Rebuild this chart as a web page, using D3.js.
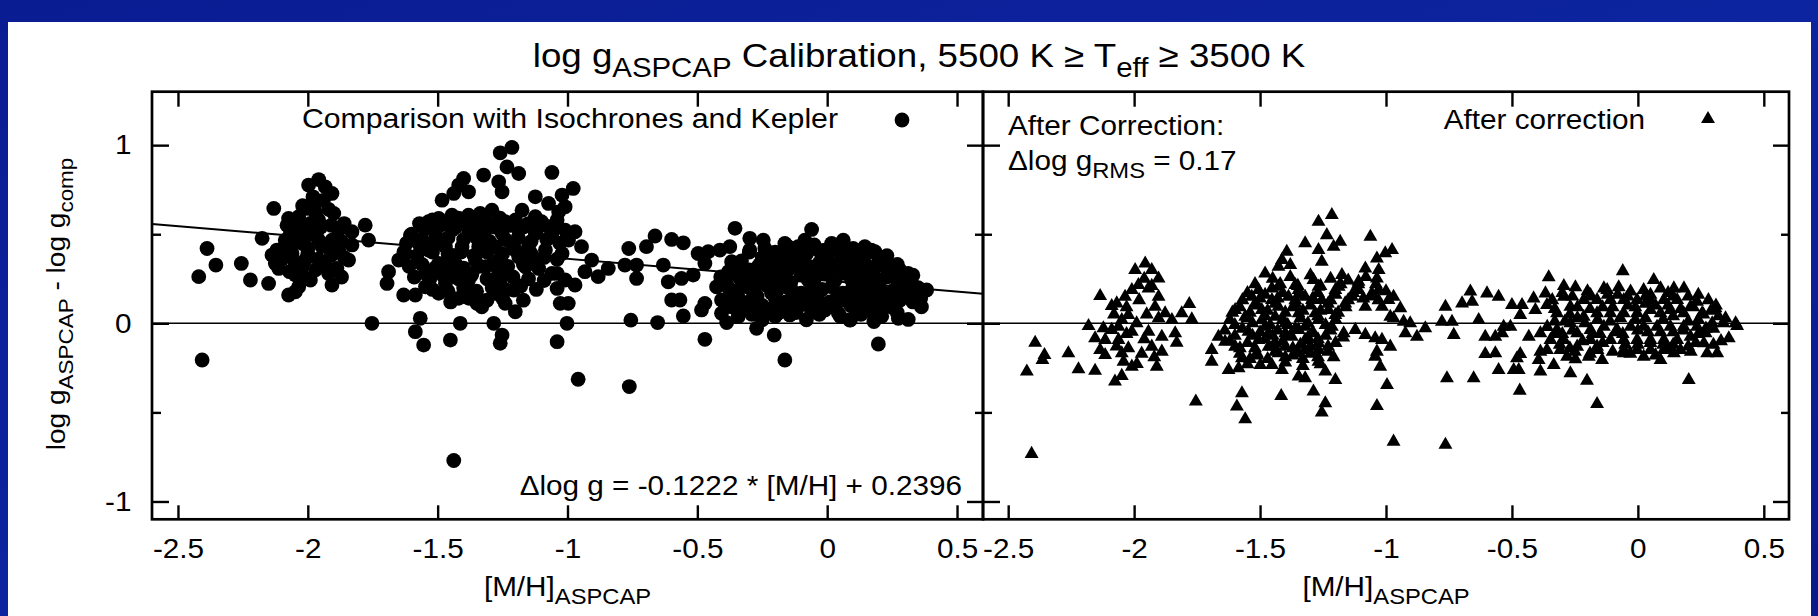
<!DOCTYPE html>
<html>
<head>
<meta charset="utf-8">
<script src="https://cdn.jsdelivr.net/npm/d3@7"></script>
<style>
  body { margin: 0; background: #ffffff; }
  svg { display: block; }
  text { font-family: "Liberation Sans", Arial, Helvetica, sans-serif; fill: #000; }
</style>
</head>
<body>
<svg id="chart" width="1818" height="616"></svg>
<script>
// [M/H], log g_ASPCAP - log g_comp : stars compared with isochrones and Kepler
const circlesMetalPoor = [
  [-2.388,0.420],[-2.354,0.327],[-2.420,0.262],[-2.407,-0.206],[-2.256,0.336],[-2.221,0.243],[-2.151,0.224],[-2.131,0.645],[-2.176,0.477],[-2.074,0.589],
  [-1.997,0.776],[-1.958,0.807],[-1.907,0.729],[-1.933,0.766],[-1.900,0.617],[-1.971,0.673],[-2.003,0.645],[-2.035,0.598],[-1.990,0.561],[-1.958,0.579],
  [-1.779,0.551],[-1.766,0.467],[-1.830,0.514],[-1.881,0.523],[-1.907,0.467],[-1.945,0.430],[-1.881,0.411],[-1.843,0.355],[-1.933,0.327],[-1.888,0.308],
  [-1.907,0.215],[-2.087,0.467],[-2.119,0.411],[-2.138,0.383],[-2.125,0.336],[-2.112,0.308],[-2.061,0.392],[-2.022,0.448],[-2.010,0.355],[-2.022,0.318],
  [-2.048,0.271],[-1.990,0.243],[-2.035,0.205],[-2.074,0.159],[-2.048,0.177],[-2.067,0.505],[-2.035,0.523],[-2.010,0.486]
];
const circlesMetalPoorCore = [
  [-2.08,0.55],[-2.04,0.56],[-1.99,0.52],[-1.95,0.54],[-1.91,0.55],[-1.86,0.56],
  [-2.09,0.43],[-2.05,0.46],[-2.00,0.42],[-1.96,0.47],[-1.92,0.44],[-1.87,0.46],[-1.83,0.44],
  [-2.10,0.36],[-2.05,0.34],[-2.00,0.39],[-1.96,0.36],[-1.91,0.38],[-1.86,0.37],
  [-2.07,0.29],[-2.02,0.27],[-1.97,0.30],[-1.92,0.28],[-1.87,0.26],
  [-1.98,0.71],[-1.94,0.69],[-1.92,0.64],[-1.97,0.62],[-2.02,0.66]
];
const circlesIntermediate = [
  [-1.753,0.000],[-1.695,0.224],[-1.689,0.290],[-1.631,0.159],[-1.586,0.159],[-1.605,0.495],[-1.567,0.028],[-1.586,-0.047],[-1.554,-0.122],[-1.451,-0.094],
  [-1.413,0.000],[-1.284,0.000],[-1.252,-0.066],[-1.259,-0.112],[-1.040,-0.103],[-1.002,0.000],[-1.438,-0.770],[-1.483,0.691],[-1.438,0.729],[-1.400,0.813],
  [-1.381,0.738],[-1.419,0.776],[-1.323,0.832],[-1.259,0.957],[-1.214,0.987],[-1.233,0.878],[-1.188,0.841],[-1.252,0.738],[-1.265,0.794],[-1.060,0.847],
  [-1.291,0.635],[-1.175,0.635],[-1.073,0.673],[-1.021,0.720],[-1.034,0.626],[-1.535,0.570],[-1.496,0.589],[-1.445,0.607],[-1.381,0.607],[-1.336,0.617],
  [-1.239,0.570],[-1.124,0.598],[-1.073,0.542],[-1.009,0.523],[-1.162,0.318],[-1.111,0.308],[-1.060,0.280],[-1.009,0.243],[-1.040,0.196],[-1.028,0.112],
  [-1.207,0.187],[-1.240,0.112],[-1.201,0.065],[-1.278,0.168],[-1.349,0.112],[-1.330,0.093],[-1.419,0.140],[-1.496,0.168],[-1.470,0.224],[-1.547,0.205],
  [-1.547,0.280],[-1.650,0.355],[-1.624,0.392],[-1.573,0.448],[-1.432,0.262],[-1.381,0.243],[-1.265,0.280],[-1.265,0.355],[-1.355,0.355],
  [-1.509,0.505],[-1.445,0.523],[-1.381,0.505],[-1.316,0.523],[-1.252,0.505],[-1.188,0.523],[-1.124,0.505],[-1.060,0.486],[-0.996,0.467],
  [-1.535,0.411],[-1.470,0.430],[-1.406,0.430],[-1.342,0.430],[-1.278,0.430],[-1.214,0.448],[-1.150,0.430],[-1.085,0.411],[-1.021,0.392],
  [-1.496,0.336],[-1.432,0.336],[-1.316,0.318],[-1.239,0.299],[-1.188,0.374],[-1.470,0.299],[-1.368,0.280],
  [-1.124,0.710],[-1.009,0.654],[-1.098,0.561]
];
const circlesIntermediateCore = [
  [-1.57,0.56],[-1.52,0.58],[-1.47,0.57],[-1.42,0.59],[-1.36,0.58],[-1.31,0.57],[-1.26,0.59],[-1.20,0.58],[-1.15,0.56],[-1.10,0.57],[-1.04,0.58],
  [-1.60,0.50],[-1.55,0.53],[-1.49,0.55],[-1.43,0.54],[-1.38,0.55],[-1.33,0.53],[-1.28,0.54],[-1.22,0.55],[-1.17,0.54],[-1.12,0.52],[-1.05,0.53],[-1.00,0.49],
  [-1.62,0.45],[-1.56,0.47],[-1.51,0.46],[-1.46,0.48],[-1.40,0.47],[-1.35,0.48],[-1.30,0.46],[-1.24,0.47],[-1.19,0.48],[-1.14,0.46],[-1.08,0.47],[-1.03,0.45],
  [-1.63,0.40],[-1.58,0.38],[-1.52,0.40],[-1.46,0.39],[-1.41,0.40],[-1.36,0.38],[-1.31,0.40],[-1.25,0.39],[-1.20,0.41],[-1.14,0.39],[-1.09,0.37],[-1.04,0.36],
  [-1.61,0.32],[-1.56,0.33],[-1.51,0.31],[-1.45,0.33],[-1.40,0.31],[-1.34,0.32],[-1.29,0.33],[-1.23,0.32],[-1.17,0.33],[-1.12,0.35],
  [-1.59,0.26],[-1.53,0.25],[-1.48,0.27],[-1.42,0.25],[-1.37,0.27],[-1.31,0.25],[-1.26,0.24],[-1.21,0.26],[-1.15,0.25],[-1.09,0.24],[-1.04,0.28],
  [-1.52,0.19],[-1.46,0.18],[-1.40,0.20],[-1.35,0.18],[-1.29,0.20],[-1.24,0.19],[-1.18,0.21],[-1.12,0.19],
  [-1.45,0.12],[-1.38,0.14],[-1.31,0.13],[-1.25,0.14],[-1.17,0.13]
];
const circlesMetalRich = [
  [-0.978,0.757],[-0.971,0.514],[-0.946,0.430],[-0.907,0.355],[-0.933,0.290],[-0.882,0.262],[-0.843,0.308],[-0.971,0.215],[-0.997,0.112],[-0.959,-0.314],
  [-0.764,0.420],[-0.779,0.327],[-0.734,0.327],[-0.734,0.252],[-0.756,0.018],[-0.762,-0.355],[-0.696,0.430],[-0.663,0.490],[-0.653,0.004],[-0.631,0.327],
  [-0.599,0.471],[-0.554,0.452],[-0.612,0.233],[-0.561,0.252],[-0.516,0.271],[-0.599,0.131],[-0.567,0.131],[-0.554,0.041],[-0.497,0.392],[-0.458,0.402],
  [-0.471,0.336],[-0.484,0.075],[-0.471,0.112],[-0.471,-0.090],[-0.426,0.205],[-0.413,0.411],[-0.375,0.430],[-0.355,0.533],[-0.368,0.346],[-0.387,0.004],
  [-0.394,0.112],[-0.298,0.477],[-0.246,0.467],[-0.298,0.411],[-0.272,-0.028],[-0.204,-0.066],[-0.163,-0.206],[-0.060,0.527],[0.062,0.467],[0.197,-0.116],
  [0.312,0.280],[0.383,0.187],[0.363,0.093],[0.312,0.022],[0.274,0.028],[0.241,0.308],[0.184,0.402],[0.087,0.018],[0.171,0.065],[-0.060,0.065],
  [-0.144,0.047],[-0.176,0.112],[-0.343,0.037],[-0.310,0.252],[-0.240,0.075],
  [-0.343,0.280],[-0.266,0.318],[-0.189,0.392],[-0.112,0.430],[-0.035,0.411],[0.043,0.411],[0.119,0.392],[0.197,0.374],
  [-0.343,0.187],[-0.266,0.224],[-0.189,0.280],[-0.112,0.318],[-0.035,0.299],[0.043,0.318],[0.119,0.299],[0.197,0.243],[0.274,0.224],
  [-0.368,0.093],[-0.291,0.131],[-0.214,0.168],[-0.137,0.187],[-0.060,0.168],[0.017,0.205],[0.094,0.187],[0.171,0.149],[0.248,0.131],
  [-0.189,0.056],[-0.112,0.093],[-0.009,0.075],[0.043,0.056],[0.119,0.075],[0.222,0.093],[-0.035,0.131],[0.068,0.131],
  [-0.214,0.355],[-0.137,0.355],[0.004,0.355],[0.081,0.355],[0.158,0.318],[-0.073,0.243],[-0.163,0.243],[0.094,0.243],[0.017,0.093],
  [-0.163,0.448],[-0.086,0.467],[0.017,0.448],[0.145,0.430],[0.222,0.318],[0.274,0.149],[0.325,0.224],[-0.407,0.131],[-0.407,0.056]
];
const circlesMetalRichCore = [
  [-0.24,0.42],[-0.15,0.43],[-0.05,0.44],[0.04,0.44],[0.10,0.42],[0.17,0.41],
  [-0.33,0.35],[-0.25,0.37],[-0.17,0.38],[-0.08,0.39],[0.00,0.38],[0.07,0.39],[0.14,0.37],[0.21,0.35],[0.27,0.33],
  [-0.38,0.29],[-0.30,0.30],[-0.22,0.31],[-0.15,0.30],[-0.07,0.32],[0.02,0.31],[0.09,0.33],[0.16,0.29],[0.25,0.28],[0.31,0.25],
  [-0.39,0.23],[-0.31,0.22],[-0.23,0.25],[-0.14,0.23],[-0.05,0.25],[0.03,0.24],[0.12,0.26],[0.20,0.23],[0.29,0.21],[0.35,0.20],
  [-0.36,0.17],[-0.28,0.18],[-0.19,0.19],[-0.10,0.17],[-0.02,0.19],[0.06,0.17],[0.14,0.19],[0.22,0.17],[0.30,0.16],
  [-0.33,0.11],[-0.25,0.10],[-0.16,0.12],[-0.08,0.11],[0.01,0.12],[0.09,0.10],[0.16,0.11],[0.25,0.09],[0.33,0.12],
  [-0.29,0.05],[-0.20,0.04],[-0.12,0.06],[-0.03,0.05],[0.05,0.04],[0.13,0.05],[0.21,0.04],
  [-0.30,0.40],[-0.20,0.40],[-0.11,0.41],[-0.01,0.41],[0.08,0.41],[0.15,0.39],[0.23,0.38],
  [-0.35,0.32],[-0.26,0.33],[-0.18,0.34],[-0.10,0.35],[-0.03,0.34],[0.05,0.35],[0.12,0.34],[0.19,0.32],[0.28,0.30],
  [-0.41,0.26],[-0.34,0.26],[-0.26,0.27],[-0.19,0.26],[-0.10,0.27],[-0.01,0.28],[0.07,0.28],[0.15,0.26],[0.23,0.26],[0.33,0.27],
  [-0.38,0.20],[-0.30,0.20],[-0.23,0.21],[-0.15,0.20],[-0.06,0.21],[0.02,0.21],[0.10,0.21],[0.18,0.20],[0.26,0.19],[0.33,0.17],
  [-0.34,0.14],[-0.27,0.15],[-0.20,0.14],[-0.12,0.15],[-0.04,0.14],[0.04,0.15],[0.12,0.14],[0.20,0.13],[0.28,0.13],[0.36,0.14],
  [-0.30,0.08],[-0.22,0.08],[-0.14,0.09],[-0.06,0.08],[0.03,0.09],[0.11,0.08],[0.19,0.07],[0.27,0.06],
  [-0.25,0.02],[-0.08,0.02],[0.09,0.02],[0.18,0.01]
];

// [M/H], residual after the calibration has been applied
const trianglesMetalPoor = [
  [-2.407,-0.733],[-2.393,-0.109],[-2.356,-0.178],[-2.364,-0.206],[-2.426,-0.271],[-2.261,-0.168],[-2.221,-0.258],[-2.155,-0.266],[-2.135,0.153],[-2.181,-0.015],
  [-2.076,-0.327],[-2.049,-0.295],[-1.910,-0.243],[-1.989,-0.228],[-2.069,0.112],[-2.089,0.097],[-2.036,0.149],[-2.009,0.187],[-1.983,0.215],[-1.956,0.336],
  [-1.996,0.299],[-1.930,0.299],[-1.903,0.252],[-1.943,0.196],[-1.903,0.149],[-1.917,0.093],[-1.877,0.056],[-1.903,0.028],[-1.850,0.019],[-1.811,0.056],
  [-1.781,0.108],[-1.771,0.022],[-1.837,-0.056],[-1.831,-0.109],[-1.890,-0.075],[-1.930,-0.131],[-1.890,-0.159],[-1.943,-0.047],[-2.009,-0.047],[-2.049,0.019],
  [-2.023,0.047],[-2.062,-0.019],[-2.089,-0.037],[-2.122,-0.028],[-2.155,-0.084],[-2.115,-0.093],[-2.062,-0.093],[-2.135,-0.150],[-2.115,-0.178],[-2.049,-0.168],
  [-2.023,-0.140],[-2.042,-0.215],[-2.009,-0.243],[-1.755,-0.439],
  [-2.03,0.09],[-1.98,0.13],[-1.95,0.05],[-1.99,0.00],[-1.96,-0.09],[-2.03,-0.06],[-1.92,-0.19],[-2.07,-0.13],[-1.97,-0.17],[-2.08,0.05],[-1.96,0.25],[-1.93,0.21]
];
const trianglesIntermediate = [
  [-1.692,-0.150],[-1.692,-0.215],[-1.625,-0.262],[-1.585,-0.252],[-1.572,-0.196],[-1.599,-0.131],[-1.639,-0.103],[-1.665,-0.075],[-1.599,0.075],[-1.572,-0.393],
  [-1.592,-0.467],[-1.559,-0.538],[-1.499,-0.234],[-1.513,-0.168],[-1.480,0.280],[-1.427,0.318],[-1.394,0.402],[-1.413,0.355],[-1.380,0.327],[-1.321,0.449],
  [-1.268,0.570],[-1.215,0.608],[-1.235,0.495],[-1.182,0.458],[-1.208,0.430],[-1.268,0.411],[-1.255,0.346],[-1.062,0.486],[-1.003,0.393],[-1.036,0.364],
  [-1.082,0.308],[-1.029,0.299],[-1.036,0.252],[-1.288,0.243],[-1.175,0.271],[-1.109,0.234],[-1.533,0.149],[-1.453,0.196],[-1.360,0.215],[-1.294,0.131],
  [-1.201,0.187],[-1.135,0.149],[-1.056,0.168],[-0.990,0.131],[-1.559,0.037],[-1.493,0.075],[-1.427,0.093],[-1.360,0.112],[-1.228,0.075],[-1.201,0.047],
  [-0.983,0.037],[-1.546,-0.047],[-1.480,-0.019],[-1.400,0.000],[-1.321,-0.019],[-1.268,0.019],[-1.506,-0.093],[-1.440,-0.112],[-1.374,-0.075],[-1.321,-0.093],
  [-1.268,-0.112],[-1.427,-0.168],[-1.347,-0.168],[-1.413,-0.262],[-1.453,-0.234],[-1.347,-0.299],[-1.321,-0.308],[-1.268,-0.215],[-1.208,-0.191],[-1.241,-0.271],
  [-1.201,-0.318],[-1.288,-0.383],[-1.241,-0.449],[-1.255,-0.501],[-1.416,-0.408],[-1.168,-0.056],[-1.122,-0.037],[-1.082,-0.065],[-1.043,-0.084],[-1.016,-0.093],
  [-1.036,-0.159],[-1.043,-0.187],[-1.023,-0.243],[-0.996,-0.346],[-1.036,-0.464],[-0.970,-0.664],[-0.983,-0.131],[-0.976,0.411],
  [-1.506,0.187],[-1.427,0.206],[-1.347,0.187],[-1.268,0.206],[-1.188,0.206],[-1.109,0.187],[-1.029,0.187],
  [-1.519,0.112],[-1.453,0.131],[-1.387,0.149],[-1.321,0.149],[-1.255,0.131],[-1.162,0.112],[-1.082,0.093],[-1.016,0.093],
  [-1.493,0.019],[-1.440,0.037],[-1.347,0.056],[-1.281,0.056],
  [-1.466,-0.056],[-1.400,-0.056],[-1.347,-0.037],[-1.294,-0.056],[-1.215,-0.019],
  [-1.400,-0.131],[-1.321,-0.150],[-1.268,-0.150],[-1.466,-0.131],
  [-0.970,0.149],[-0.970,0.028]
];
const trianglesIntermediateCore = [
  [-1.45,0.25],[-1.38,0.26],[-1.30,0.27],[-1.22,0.25],[-1.15,0.24],[-1.08,0.26],
  [-1.55,0.17],[-1.48,0.16],[-1.41,0.17],[-1.34,0.16],[-1.27,0.17],[-1.20,0.16],[-1.13,0.17],[-1.06,0.15],[-1.00,0.18],
  [-1.58,0.09],[-1.51,0.10],[-1.44,0.11],[-1.37,0.09],[-1.30,0.10],[-1.23,0.11],[-1.16,0.09],
  [-1.62,0.02],[-1.55,0.03],[-1.48,0.04],[-1.41,0.02],[-1.34,0.03],[-1.27,0.04],[-1.20,0.02],
  [-1.64,-0.04],[-1.57,-0.03],[-1.50,-0.05],[-1.43,-0.04],[-1.36,-0.03],[-1.29,-0.05],[-1.22,-0.04],
  [-1.62,-0.10],[-1.55,-0.11],[-1.48,-0.09],[-1.41,-0.10],[-1.34,-0.12],[-1.27,-0.09],[-1.20,-0.11],
  [-1.58,-0.17],[-1.51,-0.18],[-1.44,-0.16],[-1.37,-0.18],[-1.30,-0.17],[-1.23,-0.16],
  [-1.55,-0.23],[-1.40,-0.22],[-1.33,-0.24],[-1.26,-0.23],
  [-1.52,0.22],[-1.42,0.22],[-1.35,0.21],[-1.26,0.21],[-1.18,0.22],[-1.11,0.22],[-1.04,0.22],
  [-1.57,0.13],[-1.50,0.14],[-1.43,0.14],[-1.36,0.13],[-1.29,0.14],[-1.22,0.13],[-1.15,0.13],[-1.09,0.14],[-1.03,0.13],
  [-1.61,0.06],[-1.54,0.06],[-1.47,0.07],[-1.40,0.06],[-1.33,0.07],[-1.26,0.07],[-1.19,0.06],
  [-1.60,-0.01],[-1.53,0.00],[-1.46,-0.01],[-1.39,-0.01],[-1.31,0.00],[-1.24,-0.01],
  [-1.60,-0.07],[-1.53,-0.07],[-1.45,-0.07],[-1.38,-0.07],[-1.31,-0.08],[-1.24,-0.07],[-1.17,-0.08],
  [-1.58,-0.14],[-1.52,-0.14],[-1.45,-0.13],[-1.37,-0.14],[-1.30,-0.13],[-1.23,-0.13],
  [-1.54,-0.20],[-1.47,-0.20],[-1.40,-0.19],[-1.33,-0.20],[-1.27,-0.19]
];
const trianglesMetalRich = [
  [-0.943,0.084],[-0.930,0.009],[-0.904,0.000],[-0.923,-0.056],[-0.877,-0.075],[-0.844,-0.028],[-0.764,0.093],[-0.778,0.009],[-0.738,0.009],[-0.731,-0.065],
  [-0.758,-0.308],[-0.764,-0.682],[-0.665,0.178],[-0.698,0.112],[-0.658,0.121],[-0.652,-0.308],[-0.632,0.019],[-0.599,0.168],[-0.553,0.149],[-0.606,-0.075],
  [-0.606,-0.172],[-0.566,-0.168],[-0.566,-0.075],[-0.533,-0.019],[-0.506,-0.019],[-0.539,-0.056],[-0.553,-0.262],[-0.493,-0.262],[-0.473,-0.262],[-0.480,-0.196],
  [-0.467,-0.172],[-0.469,-0.378],[-0.500,0.103],[-0.460,0.103],[-0.467,0.047],[-0.414,0.140],[-0.407,0.075],[-0.367,0.168],[-0.354,0.258],[-0.361,0.103],
  [-0.294,0.209],[-0.294,0.149],[-0.248,0.202],[-0.433,-0.075],[-0.387,-0.056],[-0.387,-0.159],[-0.394,-0.206],[-0.387,-0.271],[-0.334,-0.234],[-0.268,-0.280],
  [-0.202,-0.322],[-0.162,-0.453],[-0.248,-0.202],[-0.195,-0.187],[-0.142,-0.206],[-0.162,-0.131],[0.202,-0.318],[-0.060,0.293],[0.063,0.243],[-0.076,0.202],
  [-0.122,0.187],[-0.188,0.159],[0.023,0.187],[0.143,0.196],[0.183,0.196],[0.235,0.121],[0.308,0.084],[0.255,0.056],[0.348,0.028],[0.388,0.000],
  [0.394,-0.015],[0.361,-0.084],[0.295,0.000],[0.269,-0.056],[0.262,-0.112],[0.275,-0.168],[0.315,-0.168],[0.169,-0.150],[0.090,-0.206],[0.023,-0.187],
  [-0.056,-0.168],[0.090,0.056],
  [-0.321,0.056],[-0.268,0.093],[-0.215,0.131],[-0.162,0.131],[-0.109,0.131],[-0.056,0.131],[-0.003,0.131],[0.050,0.131],[0.103,0.131],[0.156,0.131],[0.209,0.093],
  [-0.321,-0.037],[-0.268,0.000],[-0.215,0.037],[-0.162,0.056],[-0.109,0.056],[-0.056,0.056],[-0.003,0.056],[0.050,0.075],[0.129,0.075],[0.182,0.056],
  [-0.347,-0.093],[-0.294,-0.093],[-0.241,-0.056],[-0.188,-0.037],[-0.135,-0.019],[-0.082,-0.037],[-0.029,-0.019],[0.023,-0.019],[0.076,-0.019],[0.129,-0.019],[0.182,-0.019],[0.235,-0.019],
  [-0.361,-0.150],[-0.308,-0.150],[-0.241,-0.131],[-0.188,-0.093],[-0.109,-0.093],[-0.056,-0.093],[-0.003,-0.093],[0.050,-0.093],[0.103,-0.093],[0.156,-0.093],[0.209,-0.075],
  [-0.056,-0.150],[-0.003,-0.150],[0.050,-0.150],[0.103,-0.150],[0.143,-0.168],[-0.281,-0.187],
  [-0.135,0.196],[-0.029,0.178],[0.090,0.196]
];
const trianglesMetalRichCore = [
  [-0.30,0.17],[-0.20,0.18],[-0.08,0.16],[0.03,0.15],[0.12,0.17],[0.20,0.15],[0.28,0.13],
  [-0.33,0.01],[-0.24,0.09],[-0.14,0.09],[-0.04,0.10],[0.07,0.10],[0.17,0.08],[0.26,0.05],[0.32,0.04],
  [-0.30,-0.06],[-0.21,0.00],[-0.11,0.01],[-0.01,0.02],[0.10,0.02],[0.20,0.01],[0.30,-0.03],
  [-0.25,-0.16],[-0.15,-0.06],[-0.06,-0.06],[0.04,-0.05],[0.14,-0.05],[0.24,-0.06],[0.33,-0.10],
  [-0.10,-0.16],[0.00,-0.12],[0.10,-0.12],[0.20,-0.13],[0.07,-0.18],[-0.19,-0.17],
  [-0.34,0.13],[-0.26,0.15],[-0.19,0.15],[-0.12,0.16],[-0.04,0.15],[0.05,0.16],[0.14,0.15],[0.24,0.16],[0.31,0.10],
  [-0.33,0.08],[-0.27,0.05],[-0.19,0.08],[-0.10,0.09],[-0.01,0.09],[0.03,0.11],[0.12,0.10],[0.22,0.09],[0.29,0.07],
  [-0.36,-0.02],[-0.29,0.01],[-0.24,0.03],[-0.16,0.02],[-0.07,0.03],[0.03,0.03],[0.14,0.04],[0.24,0.02],[0.34,0.00],
  [-0.33,-0.06],[-0.26,-0.04],[-0.18,-0.06],[-0.09,-0.05],[0.00,-0.04],[0.09,-0.05],[0.18,-0.04],[0.27,-0.03],
  [-0.31,-0.12],[-0.22,-0.10],[-0.14,-0.11],[-0.05,-0.12],[0.05,-0.11],[0.14,-0.12],[0.23,-0.11],[0.30,-0.12],
  [-0.27,-0.14],[-0.16,-0.15],[-0.03,-0.17],[0.12,-0.15],[0.21,-0.16]
];

// linear calibration fitted to the uncorrected offsets
const fitSlope = -0.1222;
const fitIntercept = 0.2396;

const xTickValues = [-2.5, -2, -1.5, -1, -0.5, 0, 0.5];
const yMajorTicks = [-1, 0, 1];
const yMinorTicks = [-0.5, 0.5];
const xDomain = [-2.6, 0.6];
const yDomain = [-1.1, 1.3];

// ---------------------------------------------------------------------------
const W = 1818, H = 616;
const svg = d3.select("#chart");
const FONT = 27.5, SX = 1.08;

// slide background
const defs = svg.append("defs");
const grad = defs.append("linearGradient").attr("id", "slideBlue")
  .attr("x1", "0").attr("y1", "0").attr("x2", "1").attr("y2", "1");
grad.append("stop").attr("offset", "0").attr("stop-color", "#0a1c92");
grad.append("stop").attr("offset", "0.5").attr("stop-color", "#0d24a0");
grad.append("stop").attr("offset", "1").attr("stop-color", "#091a8a");
svg.append("rect").attr("width", W).attr("height", H).attr("fill", "url(#slideBlue)");
svg.append("rect").attr("x", 8).attr("y", 22).attr("width", 1803).attr("height", H - 22).attr("fill", "#ffffff");

const plotTop = 91.7, plotBottom = 519.3;
const y = d3.scaleLinear().domain(yDomain).range([plotBottom, plotTop]);
const xLeft = d3.scaleLinear().domain(xDomain).range([152, 983]);
const xRight = d3.scaleLinear().domain(xDomain).range([983, 1789]);

// text with optional subscript runs
function richText(parent, { x, y: ty, anchor = "start", size = FONT, sx = SX, rotate = 0, parts }) {
  const t = parent.append("text")
    .attr("transform", `translate(${x},${ty})` + (rotate ? ` rotate(${rotate})` : "") + ` scale(${sx},1)`)
    .attr("text-anchor", anchor)
    .style("font-size", size + "px");
  let shift = 0;
  parts.forEach(p => {
    const target = p.sub ? 0.3 * size : 0;
    const span = t.append("tspan").text(p.text).attr("dy", target - shift);
    if (p.sub) span.style("font-size", (0.8 * size) + "px");
    shift = target;
  });
  return t;
}

function styleTicks(g, width) {
  g.select(".domain").remove();
  g.selectAll(".tick line").attr("stroke", "#000").attr("stroke-width", width);
}

function drawPanel(x, opts) {
  const g = svg.append("g");
  const [x0, x1] = x.range();

  // reference line at zero offset
  g.append("line").attr("x1", x0).attr("x2", x1).attr("y1", y(0)).attr("y2", y(0))
    .attr("stroke", "#000").attr("stroke-width", 1.4);

  // bottom axis with labels, ticks pointing inward
  const bx = g.append("g").attr("transform", `translate(0,${plotBottom})`)
    .call(d3.axisBottom(x).tickValues(xTickValues).tickSize(-14).tickPadding(19)
      .tickFormat(d => String(d)));
  styleTicks(bx, 2.4);
  bx.selectAll(".tick text").attr("transform", `scale(${SX},1)`)
    .style("font-size", FONT + "px").attr("font-family", null);

  const tx = g.append("g").attr("transform", `translate(0,${plotTop})`)
    .call(d3.axisTop(x).tickValues(xTickValues).tickSize(-15).tickFormat(""));
  styleTicks(tx, 2.4);

  // left side
  const ly = g.append("g").attr("transform", `translate(${x0},0)`)
    .call(d3.axisLeft(y).tickValues(yMajorTicks).tickSize(-17).tickPadding(19)
      .tickFormat(opts.yLabels ? (d => String(d)) : ""));
  styleTicks(ly, 2.4);
  ly.selectAll(".tick text").attr("transform", `scale(${SX},1)`)
    .style("font-size", FONT + "px").attr("font-family", null);
  const lyMinor = g.append("g").attr("transform", `translate(${x0},0)`)
    .call(d3.axisLeft(y).tickValues(yMinorTicks).tickSize(-9).tickFormat(""));
  styleTicks(lyMinor, 2.4);

  // right side
  const ry = g.append("g").attr("transform", `translate(${x1},0)`)
    .call(d3.axisRight(y).tickValues(yMajorTicks).tickSize(-16).tickFormat(""));
  styleTicks(ry, 2.4);
  const ryMinor = g.append("g").attr("transform", `translate(${x1},0)`)
    .call(d3.axisRight(y).tickValues(yMinorTicks).tickSize(-8).tickFormat(""));
  styleTicks(ryMinor, 2.4);

  // frame
  g.append("rect").attr("x", x0).attr("y", plotTop).attr("width", x1 - x0).attr("height", plotBottom - plotTop)
    .attr("fill", "none").attr("stroke", "#000").attr("stroke-width", 2.7);

  // x-axis title
  richText(g, { x: (x0 + x1) / 2, y: 596, anchor: "middle",
    parts: [{ text: "[M/H]" }, { text: "ASPCAP", sub: true }] });
  return g;
}

// title
richText(svg, { x: 919, y: 67, anchor: "middle", size: 34,
  parts: [{ text: "log g" }, { text: "ASPCAP", sub: true }, { text: " Calibration, 5500 K \u2265 T" },
          { text: "eff", sub: true }, { text: " \u2265 3500 K" }] });

// y-axis title
richText(svg, { x: 65, y: 304, anchor: "middle", rotate: -90, size: 26,
  parts: [{ text: "log g" }, { text: "ASPCAP", sub: true }, { text: " - log g" }, { text: "comp", sub: true }] });

// ---------------- left panel: before correction ----------------
const left = drawPanel(xLeft, { yLabels: true });
const rawStars = circlesMetalPoor.concat(circlesMetalPoorCore, circlesIntermediate,
  circlesIntermediateCore, circlesMetalRich, circlesMetalRichCore);

const fitLine = d3.line().x(d => xLeft(d)).y(d => y(fitSlope * d + fitIntercept));
left.append("path").datum(xDomain).attr("d", fitLine)
  .attr("fill", "none").attr("stroke", "#000").attr("stroke-width", 2);

left.append("g").selectAll("circle").data(rawStars).join("circle")
  .attr("cx", d => xLeft(d[0])).attr("cy", d => y(d[1])).attr("r", 7.4).attr("fill", "#000");

richText(left, { x: 838, y: 128, anchor: "end", sx: 1.1, parts: [{ text: "Comparison with Isochrones and Kepler" }] });
left.append("circle").attr("cx", 902).attr("cy", 120).attr("r", 7.4).attr("fill", "#000");

richText(left, { x: 962, y: 495, anchor: "end",
  parts: [{ text: "\u0394log g = " + fitSlope + " * [M/H] + " + fitIntercept }] });

// ---------------- right panel: after correction ----------------
const right = drawPanel(xRight, { yLabels: false });
const correctedStars = trianglesMetalPoor.concat(trianglesIntermediate, trianglesIntermediateCore,
  trianglesMetalRich, trianglesMetalRichCore);
const tri = d3.symbol(d3.symbolTriangle, 84);

right.append("g").selectAll("path").data(correctedStars).join("path")
  .attr("d", tri).attr("transform", d => `translate(${xRight(d[0])},${y(d[1])})`).attr("fill", "#000");

richText(right, { x: 1645, y: 129, anchor: "end", parts: [{ text: "After correction" }] });
right.append("path").attr("d", tri).attr("transform", "translate(1708,119)").attr("fill", "#000");

richText(right, { x: 1008, y: 135, parts: [{ text: "After Correction:" }] });
richText(right, { x: 1008, y: 170,
  parts: [{ text: "\u0394log g" }, { text: "RMS", sub: true }, { text: " = 0.17" }] });
</script>
</body>
</html>
